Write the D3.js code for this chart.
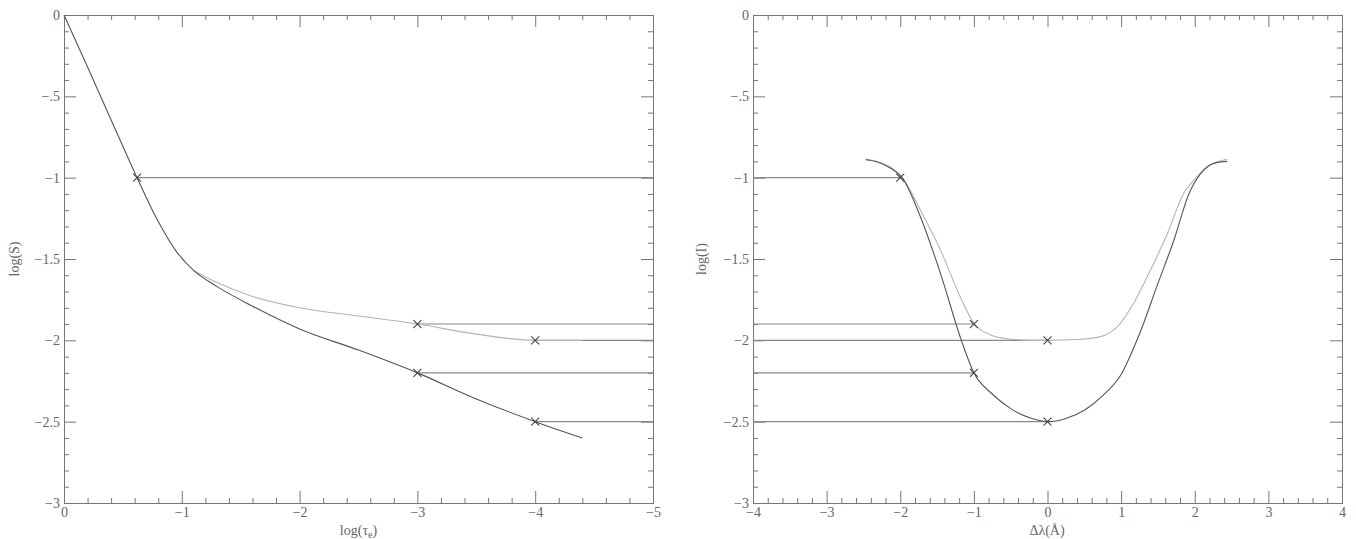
<!DOCTYPE html>
<html>
<head>
    <meta charset="utf-8">
    <title>Source function and line profile</title>
    <script src="https://d3js.org/d3.v7.min.js"></script>
    <style>
        body { margin: 0; background: #fff; }
        text { font-family: "Liberation Serif", "DejaVu Serif", serif; font-size: 14px; fill: #666; }
        .domain, .tick line { stroke: #777; }
        .curve { fill: none; stroke-width: 1.1px; }
    </style>
</head>
<body>
    <div id="chart"></div>
    <script>
        // ---- data ----
        const yTicks = [0, -0.5, -1, -1.5, -2, -2.5, -3];
        const yTickLabels = ["0", "−.5", "−1", "−1.5", "−2", "−2.5", "−3"];

        // left panel: log(S) vs log(tau_e)
        const tauTicks = [0, -1, -2, -3, -4, -5];
        const tauTickLabels = ["0", "−1", "−2", "−3", "−4", "−5"];
        const sDarkCurve = [[0, 0], [-0.2, -0.32], [-0.4, -0.645], [-0.62, -1.0], [-0.8, -1.27], [-0.95, -1.45],
            [-1.1, -1.57], [-1.3, -1.67], [-1.6, -1.79], [-2.0, -1.93], [-2.5, -2.06], [-3.0, -2.2],
            [-3.5, -2.36], [-4.0, -2.5], [-4.4, -2.6]];
        const sLightCurve = [[-1.1, -1.57], [-1.3, -1.645], [-1.6, -1.73], [-2.0, -1.8], [-2.5, -1.85],
            [-3.0, -1.9], [-3.5, -1.962], [-4.0, -2.0], [-4.4, -2.0]];
        const sMarkers = [[-0.62, -1.0], [-3, -1.9], [-4, -2.0], [-3, -2.2], [-4, -2.5]];

        // right panel: log(I) vs delta lambda
        const lamTicks = [-4, -3, -2, -1, 0, 1, 2, 3, 4];
        const lamTickLabels = ["−4", "−3", "−2", "−1", "0", "1", "2", "3", "4"];
        const iDarkCurve = [[-2.47, -0.89], [-2.3, -0.905], [-2.13, -0.942], [-1.974, -1.0], [-1.726, -1.24],
            [-1.454, -1.588], [-1.17, -2.0], [-1.0, -2.2], [-0.75, -2.33], [-0.5, -2.42], [-0.25, -2.475],
            [0, -2.5], [0.25, -2.48], [0.5, -2.43], [0.75, -2.34], [1.0, -2.21], [1.25, -1.96], [1.5, -1.65],
            [1.72, -1.38], [1.92, -1.1], [2.08, -0.975], [2.26, -0.912], [2.44, -0.9]];
        const iLightCurve = [[-2.47, -0.885], [-2.13, -0.935], [-1.974, -1.0], [-1.68, -1.24], [-1.454, -1.444],
            [-1.227, -1.69], [-1.0, -1.895], [-0.774, -1.967], [-0.548, -1.99], [-0.2, -2.0], [0, -2.0],
            [0.4, -1.995], [0.72, -1.977], [0.95, -1.916], [1.17, -1.772], [1.40, -1.567], [1.63, -1.342],
            [1.85, -1.096], [1.99, -1.014], [2.17, -0.932], [2.44, -0.887]];
        const iMarkers = [[-2, -1.0], [-1, -1.9], [0, -2.0], [-1, -2.2], [0, -2.5]];

        const svg = d3.select("#chart").append("svg")
            .attr("width", 1356)
            .attr("height", 539);

        const majorLen = 12, minorLen = 5;

        // draws one framed panel with inward ticks on all four sides
        const drawPanel = (opt) => {
            const x = d3.scaleLinear().domain(opt.xDomain).range([opt.left, opt.right]);
            const y = d3.scaleLinear().domain([0, -3]).range([opt.top, opt.bottom]);
            const g = svg.append("g");

            const xMinor = d3.range(0, 1 + Math.round(Math.abs(opt.xDomain[1] - opt.xDomain[0]) / 0.2))
                .map(i => opt.xDomain[0] + Math.sign(opt.xDomain[1] - opt.xDomain[0]) * i * 0.2)
                .filter(v => Math.abs(v - Math.round(v)) > 1e-6);
            const yMinor = d3.range(0, 31).map(i => -i * 0.1)
                .filter(v => Math.abs(v * 2 - Math.round(v * 2)) > 1e-6);

            // bottom
            g.append("g").attr("transform", `translate(0,${opt.bottom})`)
                .call(d3.axisBottom(x).tickValues(opt.xTicks).tickSize(-majorLen).tickSizeOuter(0).tickPadding(4)
                    .tickFormat((d, i) => opt.xTickLabels[i]));
            g.append("g").attr("transform", `translate(0,${opt.bottom})`)
                .call(d3.axisBottom(x).tickValues(xMinor).tickSize(-minorLen).tickSizeOuter(0).tickFormat(""));
            // top
            g.append("g").attr("transform", `translate(0,${opt.top})`)
                .call(d3.axisTop(x).tickValues(opt.xTicks).tickSize(-majorLen).tickSizeOuter(0).tickFormat(""));
            g.append("g").attr("transform", `translate(0,${opt.top})`)
                .call(d3.axisTop(x).tickValues(xMinor).tickSize(-minorLen).tickSizeOuter(0).tickFormat(""));
            // left
            g.append("g").attr("transform", `translate(${opt.left},0)`)
                .call(d3.axisLeft(y).tickValues(yTicks).tickSize(-majorLen).tickSizeOuter(0).tickPadding(4)
                    .tickFormat((d, i) => yTickLabels[i]));
            g.append("g").attr("transform", `translate(${opt.left},0)`)
                .call(d3.axisLeft(y).tickValues(yMinor).tickSize(-minorLen).tickSizeOuter(0).tickFormat(""));
            // right
            g.append("g").attr("transform", `translate(${opt.right},0)`)
                .call(d3.axisRight(y).tickValues(yTicks).tickSize(-majorLen).tickSizeOuter(0).tickFormat(""));
            g.append("g").attr("transform", `translate(${opt.right},0)`)
                .call(d3.axisRight(y).tickValues(yMinor).tickSize(-minorLen).tickSizeOuter(0).tickFormat(""));

            g.selectAll(".tick text").attr("font-family", null).attr("font-size", null);
            g.selectAll(".domain, .tick line").attr("stroke", "#777");

            const line = d3.line().x(d => x(d[0])).y(d => y(d[1])).curve(d3.curveMonotoneX);

            // horizontal guide lines from markers
            g.selectAll(".guide").data(opt.markers).join("line")
                .attr("x1", d => x(opt.guideFrom === "marker" ? d[0] : opt.xDomain[0]))
                .attr("x2", d => x(opt.guideFrom === "marker" ? opt.xDomain[1] : d[0]))
                .attr("y1", d => y(d[1])).attr("y2", d => y(d[1]))
                .attr("stroke", "#888").attr("stroke-width", 1.1);

            g.append("path").datum(opt.light).attr("class", "curve").attr("stroke", "#b4b4b4").attr("d", line);
            g.append("path").datum(opt.dark).attr("class", "curve").attr("stroke", "#555").attr("d", line);

            const m = 4;
            g.selectAll(".mark").data(opt.markers).join("path")
                .attr("d", d => {
                    const cx = x(d[0]), cy = y(d[1]);
                    return `M${cx - m},${cy - m}L${cx + m},${cy + m}M${cx - m},${cy + m}L${cx + m},${cy - m}`;
                })
                .attr("stroke", "#444").attr("stroke-width", 1.1).attr("fill", "none");

            // axis titles
            const xt = g.append("text").attr("x", (opt.left + opt.right) / 2).attr("y", 535)
                .attr("text-anchor", "middle");
            opt.xTitle(xt);
            g.append("text")
                .attr("transform", `translate(${opt.left - opt.yTitleGap},${(opt.top + opt.bottom) / 2}) rotate(-90)`)
                .attr("text-anchor", "middle")
                .text(opt.yTitle);
        };

        drawPanel({
            left: 64, right: 653, top: 15, bottom: 503,
            xDomain: [0, -5], xTicks: tauTicks, xTickLabels: tauTickLabels,
            dark: sDarkCurve, light: sLightCurve, markers: sMarkers, guideFrom: "marker",
            xTitle: t => {
                t.append("tspan").text("log(τ");
                t.append("tspan").attr("font-size", "10px").attr("dy", 3).text("e");
                t.append("tspan").attr("dy", -3).text(")");
            },
            yTitle: "log(S)", yTitleGap: 45
        });

        drawPanel({
            left: 753, right: 1342, top: 15, bottom: 503,
            xDomain: [-4, 4], xTicks: lamTicks, xTickLabels: lamTickLabels,
            dark: iDarkCurve, light: iLightCurve, markers: iMarkers, guideFrom: "axis",
            xTitle: t => t.attr("x", 1047).attr("font-size", "12px").text("Δλ(Å)"),
            yTitle: "log(I)", yTitleGap: 47
        });
    </script>
</body>
</html>
